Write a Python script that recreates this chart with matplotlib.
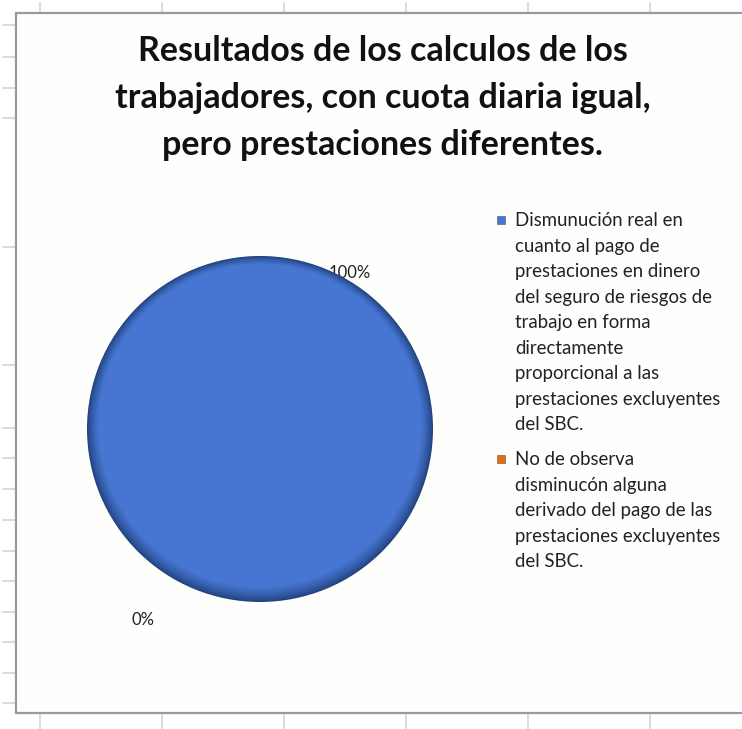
import matplotlib
matplotlib.use("Agg")
import matplotlib.pyplot as plt
from matplotlib.patches import Rectangle, Circle
import numpy as np

# ---- data ----
title = "Resultados de los calculos de los\ntrabajadores, con cuota diaria igual,\npero prestaciones diferentes."
categories = [
    "Dismunución real en\ncuanto al pago de\nprestaciones en dinero\ndel seguro de riesgos de\ntrabajo en forma\ndirectamente\nproporcional a las\nprestaciones excluyentes\ndel SBC.",
    "No de observa\ndisminucón alguna\nderivado del pago de las\nprestaciones excluyentes\ndel SBC.",
]
values = [100, 0]
colors = ["#4676d2", "#e46c0a"]

W, H = 742, 729
fig = plt.figure(figsize=(W / 100, H / 100), dpi=100)
fig.patch.set_facecolor("white")

# background / sheet decorations in pixel coords
bg = fig.add_axes([0, 0, 1, 1])
bg.set_xlim(0, W)
bg.set_ylim(H, 0)
bg.axis("off")

tick_col = "#d4d4d4"
for x in [40, 162, 284, 406, 528, 650]:
    bg.plot([x, x], [3, 13], color=tick_col, lw=1.2)
    bg.plot([x, x], [713, 729], color=tick_col, lw=1.2)
for y in [25, 57, 88, 118, 247, 365, 428, 458, 489, 520, 551, 581, 612, 642, 673, 703]:
    bg.plot([3, 16], [y, y], color=tick_col, lw=1.2)

chart_bg = "#fefefc"
bg.add_patch(Rectangle((16, 13), W + 40, 700, facecolor=chart_bg,
                       edgecolor="none", lw=0, zorder=1))
frame_col = "#9a9a9a"
bg.plot([W + 20, 16, 16, W + 20], [13, 13, 713, 713], color=frame_col, lw=1.6,
        zorder=2, solid_joinstyle="miter", solid_capstyle="butt")
# keep the right side open (chart continues beyond the crop)
bg.add_patch(Rectangle((W - 6, 14.2), 20, 697.6, facecolor=chart_bg,
                       edgecolor="none", lw=0, zorder=50))

font = "Lato"
bg.text(383, 98, title, ha="center", va="center", fontsize=24.5,
        fontweight="bold", family=font, linespacing=1.56, color="#111111", zorder=3)

# pie
cx, cy, r = 260, 429, 173
pax = fig.add_axes([(cx - r) / W, (H - cy - r) / H, 2 * r / W, 2 * r / H])
pax.set_facecolor("none")
dark = "#23427f"
wedges, _ = pax.pie(values, colors=[dark, dark], startangle=90, counterclock=False,
                    radius=1.0, wedgeprops=dict(linewidth=0))
# bevel shading: concentric layers, lighter toward center, shifted up
n = 14
c1 = np.array(matplotlib.colors.to_rgb(dark))
c2 = np.array(matplotlib.colors.to_rgb(colors[0]))
for i in range(1, n + 1):
    t = i / n
    rad = 1.0 - 0.065 * t
    off = 0.02 * t
    col = c1 + (c2 - c1) * t ** 0.8
    pax.add_patch(Circle((0, off), rad, facecolor=col, edgecolor="none", zorder=2 + i))
pax.set_xlim(-1, 1)
pax.set_ylim(-1, 1)
pax.set_aspect("auto")
pax.axis("off")

# data labels
total = sum(values)
bg.text(350, 273, f"{values[0] / total:.0%}", ha="center", va="center",
        fontsize=12, family=font, color="#222222", zorder=20)
bg.text(143, 620, f"{values[1] / total:.0%}", ha="center", va="center",
        fontsize=12, family=font, color="#222222", zorder=20)

# legend
starts = [220, 459]
for lab, col, y0 in zip(categories, colors, starts):
    bg.add_patch(Rectangle((497, y0 - 4), 8, 8, facecolor=col, edgecolor="#555555",
                           lw=0.4, zorder=4))
    bg.text(515, y0 - 8, lab, ha="left", va="top", fontsize=13.4, family=font,
            linespacing=1.61, color="#222222", zorder=4)

fig.savefig("out.png", dpi=100, facecolor="white")
